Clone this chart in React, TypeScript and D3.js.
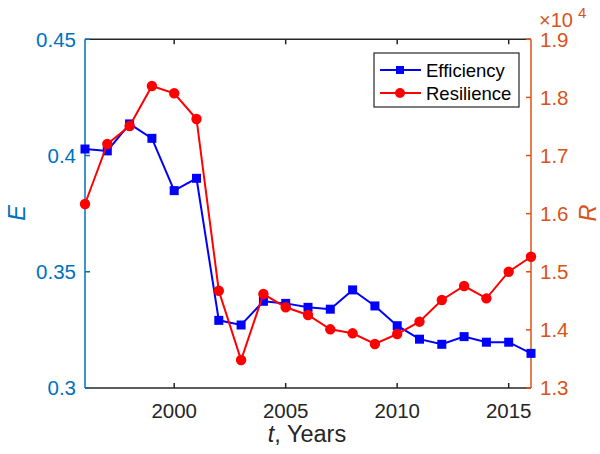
import React from "react";
import * as d3 from "d3";

const years = [1996, 1997, 1998, 1999, 2000, 2001, 2002, 2003, 2004, 2005, 2006, 2007, 2008, 2009, 2010, 2011, 2012, 2013, 2014, 2015, 2016];
const efficiency = [0.4028, 0.402, 0.4136, 0.4074, 0.3849, 0.3902, 0.3291, 0.3271, 0.3373, 0.3364, 0.3347, 0.3339, 0.3422, 0.3353, 0.3268, 0.321, 0.3188, 0.3221, 0.3197, 0.3197, 0.3149];
const resilience = [1.6166, 1.7198, 1.7508, 1.8196, 1.8071, 1.7629, 1.4674, 1.3482, 1.4617, 1.4389, 1.4256, 1.401, 1.3941, 1.3757, 1.3929, 1.4141, 1.4514, 1.4755, 1.4543, 1.5001, 1.5259];
const xTicks = [2000, 2005, 2010, 2015];
const leftTicks = [0.3, 0.35, 0.4, 0.45];
const rightTicks = [1.3, 1.4, 1.5, 1.6, 1.7, 1.8, 1.9];
const seriesNames = ["Efficiency", "Resilience"];

const L = 85, R = 531, T = 39.3, B = 388;
const FONT = "'Liberation Sans', Arial, Helvetica, sans-serif";
const LEFT_C = "#0072BD";
const RIGHT_C = "#D95319";
const AX_C = "#262626";

export default function App() {
  const x = d3.scaleLinear().domain([1996, 2016]).range([L, R]);
  const yL = d3.scaleLinear().domain([0.3, 0.45]).range([B, T]);
  const yR = d3.scaleLinear().domain([1.3, 1.9]).range([B, T]);
  const lineE = d3.line<number>().x((_, i) => x(years[i])).y((d) => yL(d));
  const lineR = d3.line<number>().x((_, i) => x(years[i])).y((d) => yR(d));
  const tl = 5;
  const fmtL = (v: number) => (v === 0.3 ? "0.3" : v === 0.4 ? "0.4" : String(v));

  return (
    <svg width={600} height={454} style={{ position: "absolute", left: 0, top: 0, background: "#fff" }} fontFamily={FONT}>
      <rect x={0} y={0} width={600} height={454} fill="#fff" />
      {/* top & bottom axes */}
      <line x1={L} x2={R} y1={B} y2={B} stroke={AX_C} strokeWidth={1.5} />
      <line x1={L} x2={R} y1={T} y2={T} stroke={AX_C} strokeWidth={1.5} />
      {xTicks.map((t) => (
        <g key={t}>
          <line x1={x(t)} x2={x(t)} y1={B} y2={B - tl} stroke={AX_C} strokeWidth={1.5} />
          <line x1={x(t)} x2={x(t)} y1={T} y2={T + tl} stroke={AX_C} strokeWidth={1.5} />
          <text x={x(t)} y={B + 30} fontSize={20.5} textAnchor="middle" fill={AX_C}>{t}</text>
        </g>
      ))}
      {/* left axis */}
      <line x1={L} x2={L} y1={T} y2={B} stroke={LEFT_C} strokeWidth={1.5} />
      {leftTicks.map((t) => (
        <g key={t}>
          <line x1={L} x2={L + tl} y1={yL(t)} y2={yL(t)} stroke={LEFT_C} strokeWidth={1.5} />
          <text x={L - 9} y={yL(t)} dy="0.36em" fontSize={20.5} textAnchor="end" fill={LEFT_C}>{fmtL(t)}</text>
        </g>
      ))}
      {/* right axis */}
      <line x1={R} x2={R} y1={T} y2={B} stroke={RIGHT_C} strokeWidth={1.5} />
      {rightTicks.map((t) => (
        <g key={t}>
          <line x1={R} x2={R - tl} y1={yR(t)} y2={yR(t)} stroke={RIGHT_C} strokeWidth={1.5} />
          <text x={R + 9} y={yR(t)} dy="0.36em" fontSize={20.5} textAnchor="start" fill={RIGHT_C}>{t.toFixed(1)}</text>
        </g>
      ))}
      <text x={539} y={26.5} fontSize={20} fill={RIGHT_C}>×10</text>
      <text x={578} y={18} fontSize={15} fill={RIGHT_C}>4</text>
      {/* axis labels */}
      <text transform={`translate(${25},${213}) rotate(-90)`} fontSize={23.5} fontStyle="italic" textAnchor="middle" fill={LEFT_C}>E</text>
      <text transform={`translate(${596},${213}) rotate(-90)`} fontSize={23.5} fontStyle="italic" textAnchor="middle" fill={RIGHT_C}>R</text>
      <text x={307} y={442} fontSize={23.5} textAnchor="middle" fill={AX_C}><tspan fontStyle="italic">t</tspan>, Years</text>
      {/* series */}
      <path d={lineE(efficiency) || ""} fill="none" stroke="#0000FF" strokeWidth={2} />
      {efficiency.map((v, i) => (
        <rect key={i} x={x(years[i]) - 4.5} y={yL(v) - 4.5} width={9} height={9} fill="#0000FF" />
      ))}
      <path d={lineR(resilience) || ""} fill="none" stroke="#FF0000" strokeWidth={2} />
      {resilience.map((v, i) => (
        <circle key={i} cx={x(years[i])} cy={yR(v)} r={5.2} fill="#FF0000" />
      ))}
      {/* legend */}
      <rect x={374} y={53} width={145} height={54} fill="#fff" stroke={AX_C} strokeWidth={1.2} />
      <line x1={380} x2={421} y1={70} y2={70} stroke="#0000FF" strokeWidth={2} />
      <rect x={396} y={66} width={8} height={8} fill="#0000FF" />
      <text x={426} y={70} dy="0.36em" fontSize={18.5} fill="#000">{seriesNames[0]}</text>
      <line x1={380} x2={421} y1={93} y2={93} stroke="#FF0000" strokeWidth={2} />
      <circle cx={400} cy={93} r={5} fill="#FF0000" />
      <text x={426} y={93} dy="0.36em" fontSize={18.5} fill="#000">{seriesNames[1]}</text>
    </svg>
  );
}
